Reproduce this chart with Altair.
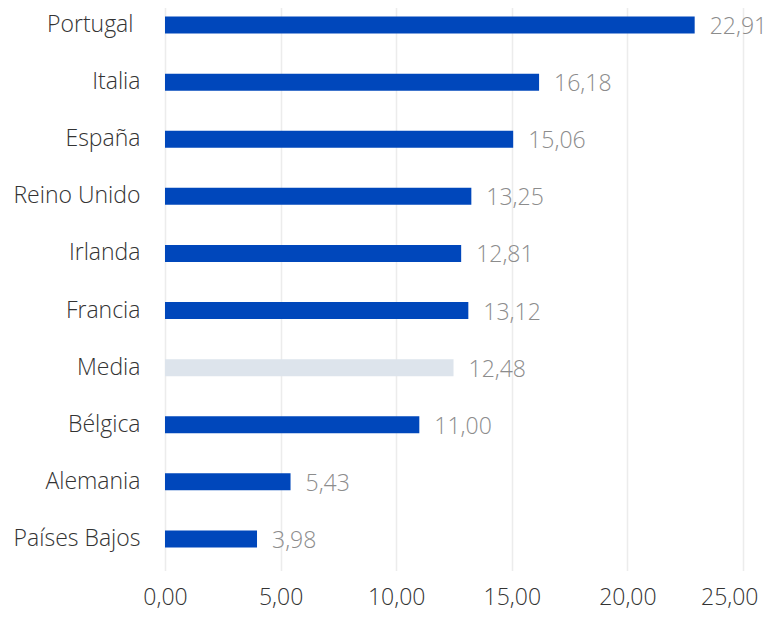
import altair as alt
import pandas as pd

countries = ["Portugal", "Italia", "España", "Reino Unido", "Irlanda", "Francia",
             "Media", "Bélgica", "Alemania", "Países Bajos"]
values = [22.91, 16.18, 15.06, 13.25, 12.81, 13.12, 12.48, 11.00, 5.43, 3.98]
kinds = ["pais"] * 6 + ["media"] + ["pais"] * 3
ticks = [0, 5, 10, 15, 20, 25]

df = pd.DataFrame({"pais": countries, "valor": values, "tipo": kinds})

FONT = "Open Sans"
FS = 23

y = alt.Y("pais:N", sort=countries, title=None,
          scale=alt.Scale(range=[-3.5, 567.5], paddingInner=0, paddingOuter=0),
          axis=alt.Axis(domain=False, ticks=False,
                        labelPadding=alt.condition("datum.value == 'Portugal'", alt.value(32), alt.value(25)),
                        labelFontSize=FS,
                        labelColor="#333333", labelFont=FONT, labelFontWeight=300))

x = alt.X("valor:Q", title=None,
          scale=alt.Scale(domain=[0, 25], nice=False),
          axis=alt.Axis(values=ticks, domain=False, ticks=False,
                        labelExpr="replace(format(datum.value, '.2f'), '.', ',')",
                        labelPadding=19, labelFontSize=FS, labelColor="#333333",
                        labelFont=FONT, labelFontWeight=300, labelFlush=False,
                        labelAlign=alt.condition("datum.value == 25", alt.value("right"), alt.value("center")),
                        labelOffset=alt.condition("datum.value == 25", alt.value(15), alt.value(0)),
                        grid=True, gridColor="#ececec", gridWidth=1.5))

base = alt.Chart(df).encode(y=y)

bars = base.mark_bar(size=17).encode(
    x=x,
    color=alt.Color("tipo:N", scale=alt.Scale(domain=["pais", "media"],
                                              range=["#0047bb", "#dde4ec"]), legend=None),
)

labels = base.mark_text(align="left", baseline="middle", dx=15, dy=2, fontSize=FS,
                        font=FONT, fontWeight=300, color="#8c8c8c").transform_calculate(
    lab="replace(format(datum.valor, '.2f'), '.', ',')"
).encode(x="valor:Q", text="lab:N")

chart = alt.layer(bars, labels).properties(
    width=578, height=567,
    autosize=alt.AutoSizeParams(type="none"),
    padding={"left": 157, "top": -8, "right": 24, "bottom": 44},
).configure_view(stroke=None)

chart.save("out.html", embed_options={"renderer": "svg", "actions": False})
